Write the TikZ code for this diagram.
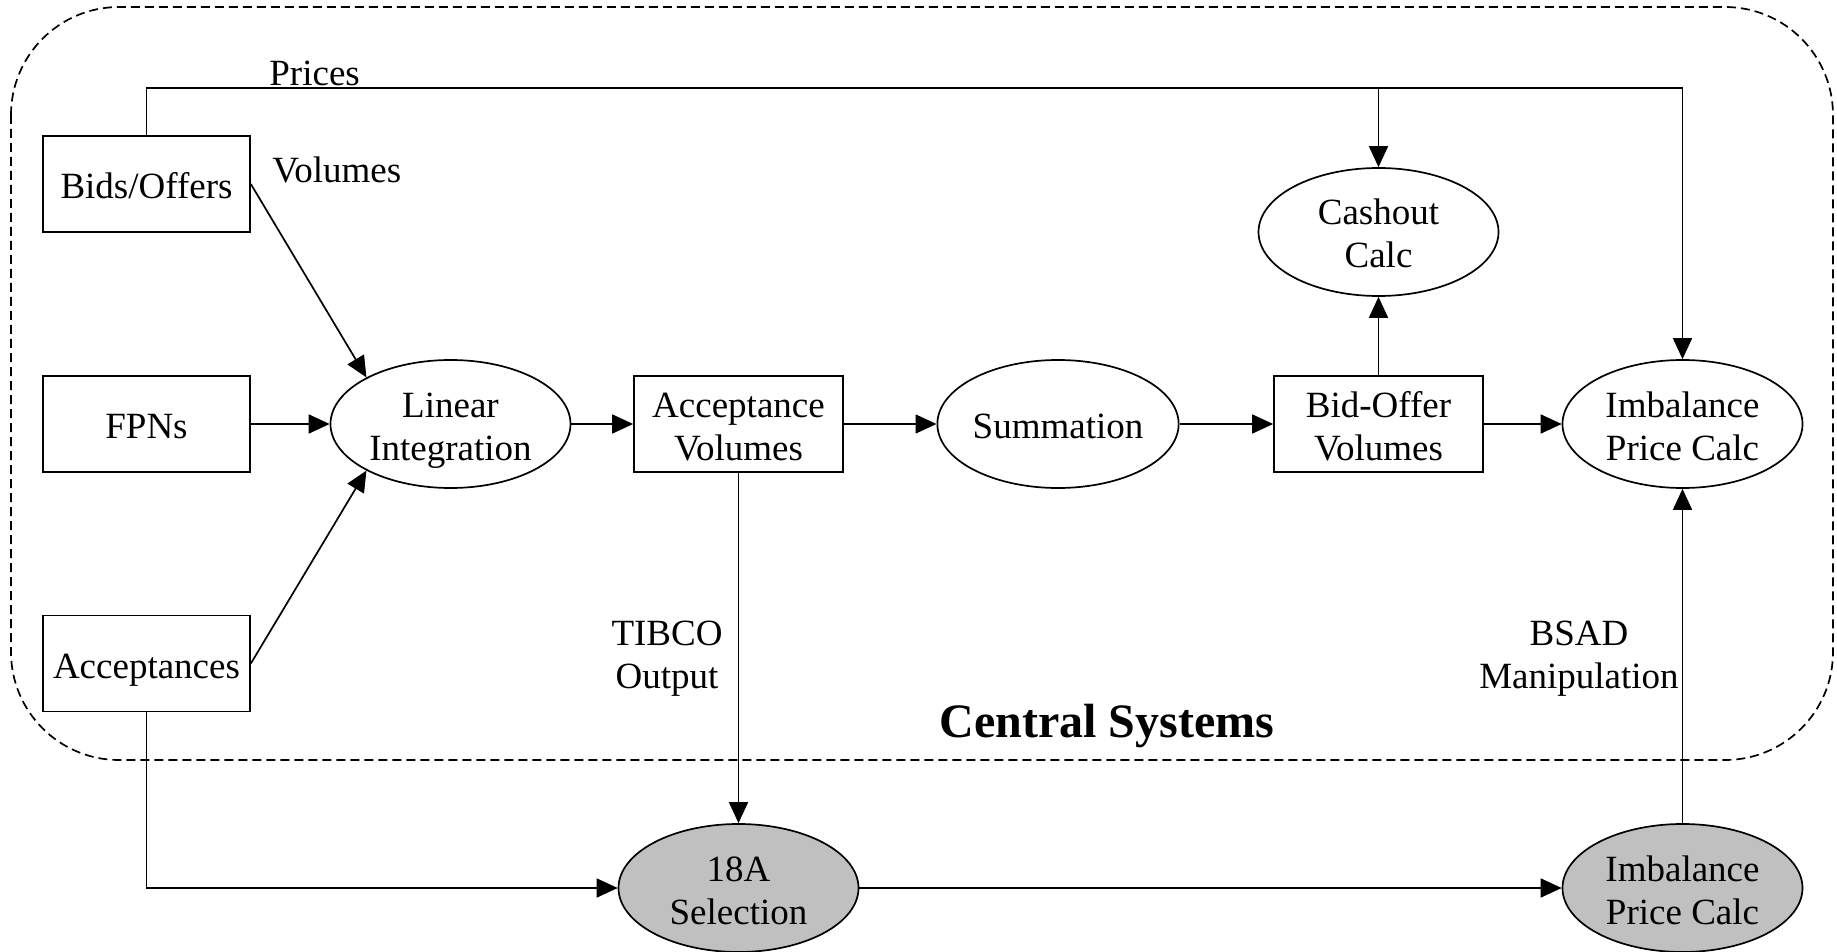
\documentclass[tikz,border=0pt]{standalone}
\usepackage{fontspec}
\setmainfont{Liberation Serif}
\usetikzlibrary{shapes.geometric,arrows.meta}
\definecolor{extgray}{HTML}{C0C0C0}
% struts giving every text line the same ascent and descent;
% the first line of a node gets the taller one
\newcommand{\lt}{\rule[-4pt]{0pt}{22.5pt}}
\newcommand{\ls}{\rule[-4pt]{0pt}{16.5pt}}
\begin{document}
\begin{tikzpicture}[x=0.5pt,y=-0.5pt,
  every node/.style={font=\fontsize{18.5}{21.5}\selectfont},
  proc/.style={draw,line width=0.85pt,minimum width=103.5pt,minimum height=48pt,inner sep=0pt,align=center},
  calc/.style={draw,ellipse,line width=0.85pt,minimum width=120pt,minimum height=64pt,inner sep=0pt,align=center},
  ext/.style={calc,fill=extgray},
  lbl/.style={align=center,inner sep=0pt},
  arr/.style={line width=0.85pt,-{Triangle[length=10.5pt,width=9.5pt]}},
  zone/.style={draw,dash pattern=on 4.5pt off 2.5pt,line width=0.85pt,rounded corners=54pt}]
\useasboundingbox (0,0) rectangle (1837,952);

% Central Systems boundary
\draw[zone] (11,7) rectangle (1833,760);

% inputs
\node[proc] (bids) at (146.5,184) {\lt Bids/Offers};
\node[proc] (fpn) at (146.5,424) {\lt FPNs};
\node[proc] (acc) at (146.5,663.5) {\lt Acceptances};

% main processing chain
\node[calc] (lin) at (450.5,424) {\lt Linear\\\ls Integration};
\node[proc,minimum width=104.5pt] (accvol) at (738.5,424) {\lt Acceptance\\\ls Volumes};
\node[calc] (sum) at (1058,424) {\lt Summation};
\node[proc,minimum width=104.5pt] (bov) at (1378.5,424) {\lt Bid-Offer\\\ls Volumes};
\node[calc] (cash) at (1378.5,232) {\lt Cashout\\\ls Calc};
\node[calc] (imb) at (1682.5,424) {\lt Imbalance\\\ls Price Calc};

% external processing
\node[ext] (sel) at (738.5,888) {\lt 18A\\\ls Selection};
\node[ext] (imbx) at (1682.5,888) {\lt Imbalance\\\ls Price Calc};

% labels (base anchor sits on the last line)
\node[lbl,anchor=base west] (prices) at (269,86) {Prices};
\node[lbl,anchor=base west] (vols) at (272,183) {Volumes};
\node[lbl,anchor=base] (tibco) at (667,688) {TIBCO\\Output};
\node[lbl,anchor=base] (bsad) at (1579,688) {BSAD\\Manipulation};
\node[lbl,anchor=base,font=\fontsize{24}{28}\selectfont\bfseries] (cs) at (1107,737) {Central Systems};

% connectors
\coordinate (prow) at (0,88);
\draw[arr] (bids.north) |- (prow -| imb.north) -- (imb.north);
\draw[arr] (prow -| cash.north) -- (cash.north);
\draw[arr] (bids.east) -- (lin.151);
\draw[arr] (fpn.east) -- (lin.west);
\draw[arr] (acc.east) -- (lin.209);
\draw[arr] (lin.east) -- (accvol.west);
\draw[arr] (accvol.east) -- (sum.west);
\draw[arr] (sum.east) -- (bov.west);
\draw[arr] (bov.east) -- (imb.west);
\draw[arr] (bov.north) -- (cash.south);
\draw[arr] (accvol.south) -- (sel.north);
\draw[arr] (acc.south) |- (sel.west);
\draw[arr] (sel.east) -- (imbx.west);
\draw[arr] (imbx.north) -- (imb.south);
\end{tikzpicture}
\end{document}
